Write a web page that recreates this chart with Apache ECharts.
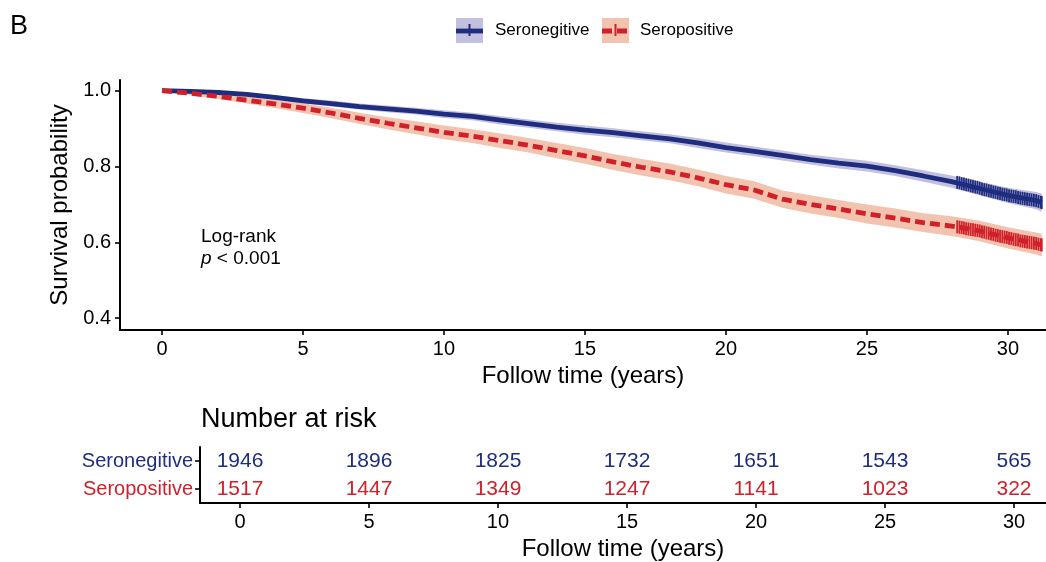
<!DOCTYPE html>
<html>
<head>
<meta charset="utf-8">
<script src="https://cdn.jsdelivr.net/npm/echarts@6/dist/echarts.min.js"></script>
<style>html,body{margin:0;padding:0;background:#fff}#c{width:1046px;height:562px}</style>
</head>
<body>
<div id="c"></div>
<script>
// ---- data ----
const times = [0,1,2,3,4,5,6,7,8,9,10,11,12,13,14,15,16,17,18,19,20,21,22,23,24,25,26,27,28,29,30,31,31.2];
const negSurv  = [1.000,0.998,0.995,0.990,0.982,0.973,0.966,0.958,0.952,0.946,0.938,0.932,0.922,0.913,0.904,0.896,0.889,0.881,0.873,0.862,0.850,0.840,0.829,0.818,0.809,0.801,0.789,0.775,0.760,0.742,0.724,0.710,0.705];
const negLower = [1.000,0.995,0.991,0.985,0.976,0.966,0.958,0.950,0.943,0.937,0.928,0.922,0.911,0.902,0.893,0.884,0.877,0.869,0.861,0.849,0.837,0.827,0.816,0.805,0.795,0.787,0.775,0.760,0.744,0.724,0.704,0.687,0.681];
const negUpper = [1.000,1.000,0.999,0.995,0.988,0.980,0.974,0.966,0.961,0.955,0.948,0.942,0.933,0.924,0.915,0.908,0.901,0.893,0.885,0.875,0.863,0.853,0.842,0.831,0.823,0.815,0.803,0.790,0.776,0.760,0.744,0.733,0.729];
const posSurv  = [1.000,0.993,0.985,0.975,0.965,0.954,0.941,0.927,0.914,0.902,0.890,0.880,0.868,0.856,0.842,0.828,0.812,0.798,0.786,0.770,0.752,0.738,0.714,0.700,0.688,0.675,0.664,0.652,0.643,0.630,0.612,0.597,0.593];
const posLower = [1.000,0.988,0.978,0.966,0.954,0.941,0.927,0.912,0.898,0.885,0.872,0.862,0.849,0.837,0.822,0.807,0.791,0.776,0.764,0.748,0.729,0.715,0.691,0.676,0.664,0.650,0.639,0.627,0.617,0.603,0.584,0.568,0.563];
const posUpper = [1.000,0.998,0.992,0.984,0.976,0.967,0.955,0.942,0.930,0.919,0.908,0.898,0.887,0.875,0.862,0.849,0.833,0.820,0.808,0.792,0.775,0.761,0.737,0.724,0.712,0.700,0.689,0.677,0.669,0.657,0.640,0.626,0.623];

const censorTimes = [28.2,28.28,28.36,28.44,28.52,28.6,28.68,28.76,28.84,28.92,29.0,29.08,29.16,29.24,29.32,29.4,29.48,29.56,29.64,29.72,29.8,29.88,29.96,30.04,30.12,30.2,30.28,30.36,30.44,30.52,30.6,30.68,30.76,30.84,30.92,31.0,31.08,31.16,31.2];
const negCensorSurv = [0.758,0.757,0.755,0.754,0.752,0.751,0.749,0.748,0.746,0.745,0.743,0.741,0.739,0.738,0.736,0.735,0.733,0.732,0.730,0.729,0.727,0.726,0.725,0.723,0.722,0.721,0.720,0.718,0.717,0.716,0.715,0.714,0.713,0.712,0.711,0.710,0.708,0.706,0.705];
const posCensorSurv = [0.641,0.640,0.639,0.638,0.636,0.635,0.634,0.633,0.632,0.631,0.630,0.628,0.627,0.625,0.624,0.622,0.621,0.619,0.618,0.616,0.615,0.614,0.613,0.611,0.610,0.608,0.607,0.606,0.604,0.603,0.602,0.601,0.600,0.599,0.598,0.597,0.595,0.594,0.593];

const riskTimes = [0,5,10,15,20,25,30];
const riskNeg = [1946,1896,1825,1732,1651,1543,565];
const riskPos = [1517,1447,1349,1247,1141,1023,322];
const groups = ['Seronegitive','Seropositive'];
const xTicks = [0,5,10,15,20,25,30];
const yTicks = [0.4,0.6,0.8,1.0];

// ---- styles ----
const FONT = 'Liberation Sans, Arial, sans-serif';
const BLUE = '#1f2d80', RED = '#d0202a';
const BLUE_BAND = '#c3c0dd', RED_BAND = '#f2c3ae';

function bandSeries(lower, upper, color) {
  return {
    type: 'custom', xAxisIndex: 0, yAxisIndex: 0, clip: true, silent: true, z: 1,
    data: times.map((t, i) => [t, lower[i], upper[i]]),
    renderItem: function (params, api) {
      if (params.dataIndex !== 0) return null;
      const pts = [];
      for (let i = 0; i < times.length; i++) pts.push(api.coord([times[i], upper[i]]));
      for (let i = times.length - 1; i >= 0; i--) pts.push(api.coord([times[i], lower[i]]));
      return { type: 'polygon', shape: { points: pts }, style: { fill: color } };
    }
  };
}

const axisLine = { show: true, onZero: false, lineStyle: { color: '#000', width: 2 } };
const axisTick = { show: true, length: 5, lineStyle: { color: '#000', width: 1.6 } };

function riskSeries(values, group, color) {
  return {
    type: 'scatter', xAxisIndex: 1, yAxisIndex: 1, silent: true, symbolSize: 1,
    itemStyle: { opacity: 0 },
    data: riskTimes.map((t, i) => [t, group, values[i]]),
    label: { show: true, position: 'inside', formatter: p => String(p.value[2]), opacity: 1,
             color: color, fontSize: 21, fontFamily: FONT }
  };
}

const option = {
  backgroundColor: '#fff',
  animation: false,
  textStyle: { fontFamily: FONT },
  grid: [
    { left: 120, top: 80, width: 926, height: 250 },
    { left: 200, top: 447, width: 846, height: 56 }
  ],
  xAxis: [
    {
      type: 'value', gridIndex: 0, min: -1.49, max: 31.35,
      axisLine: axisLine, axisTick: Object.assign({ customValues: xTicks }, axisTick),
      axisLabel: { customValues: xTicks, color: '#000', fontSize: 20, fontFamily: FONT, margin: 9 },
      splitLine: { show: false },
      name: 'Follow time (years)', nameLocation: 'middle', nameGap: 34,
      nameTextStyle: { fontSize: 24, color: '#000', fontFamily: FONT }
    },
    {
      type: 'value', gridIndex: 1, min: -1.55, max: 31.24,
      axisLine: axisLine, axisTick: Object.assign({ customValues: xTicks }, axisTick),
      axisLabel: { customValues: xTicks, color: '#000', fontSize: 20, fontFamily: FONT, margin: 9 },
      splitLine: { show: false },
      name: 'Follow time (years)', nameLocation: 'middle', nameGap: 34,
      nameTextStyle: { fontSize: 24, color: '#000', fontFamily: FONT }
    }
  ],
  yAxis: [
    {
      type: 'value', gridIndex: 0, min: 0.369, max: 1.028,
      axisLine: axisLine, axisTick: Object.assign({ customValues: yTicks }, axisTick),
      axisLabel: { customValues: yTicks, color: '#000', fontSize: 20, fontFamily: FONT, margin: 9,
                   formatter: v => v.toFixed(1) },
      splitLine: { show: false },
      name: 'Survival probability', nameLocation: 'middle', nameGap: 42, nameRotate: 90,
      nameTextStyle: { fontSize: 24, color: '#000', fontFamily: FONT }
    },
    {
      type: 'category', gridIndex: 1, data: [groups[1], groups[0]],
      axisLine: axisLine, axisTick: Object.assign({ alignWithLabel: true }, axisTick),
      axisLabel: { fontSize: 20, fontFamily: FONT, margin: 7,
                   color: (v) => v === groups[0] ? BLUE : RED },
      splitLine: { show: false }
    }
  ],
  series: [
    bandSeries(negLower, negUpper, BLUE_BAND),
    bandSeries(posLower, posUpper, RED_BAND),
    {
      name: groups[0], type: 'line', xAxisIndex: 0, yAxisIndex: 0, z: 3,
      data: times.map((t, i) => [t, negSurv[i]]), showSymbol: false, symbol: 'none',
      lineStyle: { color: BLUE, width: 4.8 }
    },
    {
      name: groups[1], type: 'line', xAxisIndex: 0, yAxisIndex: 0, z: 4,
      data: times.map((t, i) => [t, posSurv[i]]), showSymbol: false, symbol: 'none',
      lineStyle: { color: RED, width: 4.8, type: [10, 5] }
    },
    {
      type: 'scatter', xAxisIndex: 0, yAxisIndex: 0, z: 5, silent: true,
      data: censorTimes.map((t, i) => [t, negCensorSurv[i]]),
      symbol: 'rect', symbolSize: [1.8, 13], itemStyle: { color: BLUE, opacity: 1 }
    },
    {
      type: 'scatter', xAxisIndex: 0, yAxisIndex: 0, z: 5, silent: true,
      data: censorTimes.map((t, i) => [t, posCensorSurv[i]]),
      symbol: 'rect', symbolSize: [1.8, 13], itemStyle: { color: RED, opacity: 1 }
    },
    riskSeries(riskNeg, groups[0], BLUE),
    riskSeries(riskPos, groups[1], RED)
  ],
  graphic: [
    { type: 'text', left: 10, top: 13, style: { text: 'B', fontSize: 27, fontFamily: FONT, fill: '#000' } },
    { type: 'text', left: 201, top: 227, style: { text: 'Log-rank', fontSize: 19, fontFamily: FONT, fill: '#000' } },
    { type: 'text', left: 201, top: 249, style: {
        rich: { i: { fontStyle: 'italic', fontSize: 19, fontFamily: FONT, fill: '#000' },
                n: { fontSize: 19, fontFamily: FONT, fill: '#000' } },
        text: '{i|p}{n| < 0.001}' } },
    { type: 'text', left: 201, top: 406, style: { text: 'Number at risk', fontSize: 27, fontFamily: FONT, fill: '#000' } },
    // legend keys
    { type: 'rect', shape: { x: 456, y: 18, width: 27, height: 25 }, style: { fill: BLUE_BAND } },
    { type: 'line', shape: { x1: 456, y1: 31, x2: 483, y2: 31 }, style: { stroke: BLUE, lineWidth: 4.8 } },
    { type: 'line', shape: { x1: 469.5, y1: 24, x2: 469.5, y2: 36 }, style: { stroke: BLUE, lineWidth: 2 } },
    { type: 'text', left: 495, top: 22, style: { text: groups[0], fontSize: 17, fontFamily: FONT, fill: '#000' } },
    { type: 'rect', shape: { x: 602, y: 18, width: 27, height: 25 }, style: { fill: RED_BAND } },
    { type: 'line', shape: { x1: 602, y1: 31, x2: 629, y2: 31 }, style: { stroke: RED, lineWidth: 4.8, lineDash: [10, 5] } },
    { type: 'line', shape: { x1: 615.5, y1: 24, x2: 615.5, y2: 36 }, style: { stroke: RED, lineWidth: 2 } },
    { type: 'text', left: 640, top: 22, style: { text: groups[1], fontSize: 17, fontFamily: FONT, fill: '#000' } }
  ]
};

const chart = echarts.init(document.getElementById('c'), null, { renderer: 'canvas' });
chart.setOption(option);
</script>
</body>
</html>
